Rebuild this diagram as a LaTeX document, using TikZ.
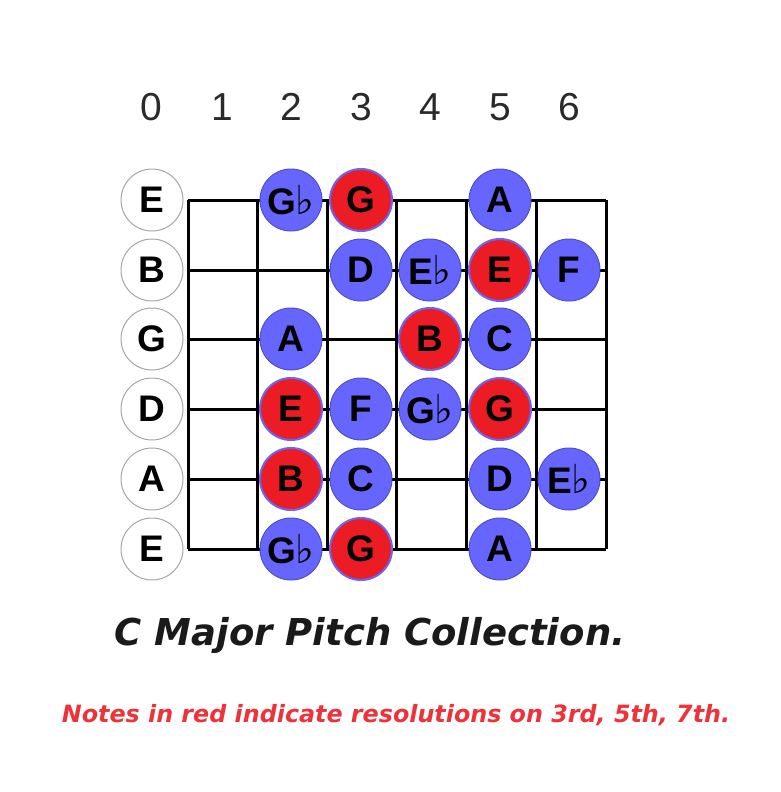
\documentclass[tikz,border=0pt]{standalone}
\usepackage{fontspec}
\setmainfont{Liberation Sans}
\newfontfamily\dvs{DejaVu Sans}
\newfontfamily\ttl{DejaVu Sans}[BoldItalicFont={DejaVu Sans Bold Oblique}]
\definecolor{notefill}{HTML}{6666FF}
\definecolor{noteedge}{HTML}{4F4FC8}
\definecolor{rednote}{HTML}{EC1C24}
\definecolor{titlegray}{HTML}{1A1A1A}
\definecolor{captionred}{HTML}{EE3238}
\definecolor{numgray}{HTML}{2A2A2A}
\newcommand{\fl}{\kern-1pt{\dvs\bfseries\fontsize{40}{40}\selectfont\char"266D}}
\tikzset{
  note/.style={circle,minimum size=62pt,inner sep=0pt,fill=notefill,draw=noteedge,line width=1pt,font=\fontsize{37}{37}\bfseries},
  rnote/.style={note,fill=rednote,draw=notefill,line width=2pt},
  open/.style={circle,minimum size=62pt,inner sep=0pt,fill=white,draw=gray!70,line width=1pt,font=\fontsize{37}{37}\bfseries},
  fretnum/.style={font=\fontsize{39}{39}\selectfont,text=numgray},
  gridline/.style={line width=3pt,black}
}
\begin{document}
\begin{tikzpicture}[x=1pt,y=-1pt]
\useasboundingbox (0,0) rectangle (781,792);
% fret numbers
\foreach \n/\x in {0/151,1/222,2/291,3/361,4/430,5/500,6/569}
  \node[fretnum] (num\n) at (\x,107) {\n};
% grid
\foreach \x in {188,257,327,396,466,536,606}
  \draw[gridline] (\x,200) -- (\x,549);
\foreach \y in {200,270,339,409,479,549}
  \draw[gridline] (188,\y) -- (606,\y);
% open strings
\node[open] (s1) at (152,200) {E};
\node[open] (s2) at (152,270) {B};
\node[open] (s3) at (152,339) {G};
\node[open] (s4) at (152,409) {D};
\node[open] (s5) at (152,479) {A};
\node[open] (s6) at (152,549) {E};
% row 1
\node[note] (n12) at (291,200) {G\fl};
\node[rnote] (n13) at (361,200) {G};
\node[note] (n15) at (500,200) {A};
% row 2
\node[note] (n23) at (361,270) {D};
\node[note] (n24) at (430,270) {E\fl};
\node[rnote] (n25) at (500,270) {E};
\node[note] (n26) at (569,270) {F};
% row 3
\node[note] (n32) at (291,339) {A};
\node[rnote] (n34) at (430,339) {B};
\node[note] (n35) at (500,339) {C};
% row 4
\node[rnote] (n42) at (291,409) {E};
\node[note] (n43) at (361,409) {F};
\node[note] (n44) at (430,409) {G\fl};
\node[rnote] (n45) at (500,409) {G};
% row 5
\node[rnote] (n52) at (291,479) {B};
\node[note] (n53) at (361,479) {C};
\node[note] (n55) at (500,479) {D};
\node[note] (n56) at (569,479) {E\fl};
% row 6
\node[note] (n62) at (291,549) {G\fl};
\node[rnote] (n63) at (361,549) {G};
\node[note] (n65) at (500,549) {A};
% captions
\node[font=\ttl\fontsize{37}{37}\selectfont\bfseries\itshape,text=titlegray] (title) at (370,635) {C Major Pitch Collection.};
\node[font=\ttl\fontsize{23.8}{24}\selectfont\bfseries\itshape,text=captionred] (caption) at (396,715) {Notes in red indicate resolutions on 3rd, 5th, 7th.};
\end{tikzpicture}
\end{document}
